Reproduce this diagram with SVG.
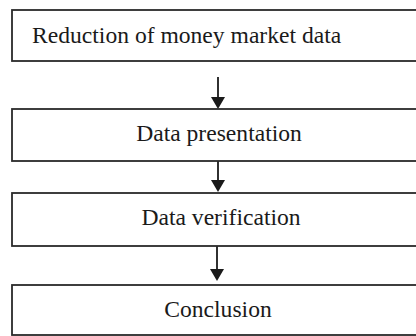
<svg xmlns="http://www.w3.org/2000/svg" width="416" height="336" viewBox="0 0 416 336">
<style>
.box{fill:#fff;stroke:#2a2a2a;stroke-width:1.8}
.t{font-family:"Liberation Serif","Times New Roman",serif;font-size:23.6px;fill:#1a1a1a}
.c{text-anchor:middle}
.conn{stroke:#1a1a1a;stroke-width:1.8;fill:none}
.head{fill:#1a1a1a}
</style>
<rect width="416" height="336" fill="#fff"/>
<g id="connectors">
<line class="conn" x1="218" y1="77" x2="218" y2="97"/>
<path class="head" d="M211,97 L225,97 L218,109 Z"/>
<line class="conn" x1="218" y1="146" x2="218" y2="180"/>
<path class="head" d="M211,180 L225,180 L218,192 Z"/>
<line class="conn" x1="217" y1="235" x2="217" y2="269"/>
<path class="head" d="M210,269 L224,269 L217,281 Z"/>
</g>
<g id="n1">
<rect class="box" x="12" y="10" width="420" height="51"/>
<text class="t" x="32" y="43">Reduction of money market data</text>
</g>
<g id="n2">
<rect class="box" x="12" y="109" width="420" height="52"/>
<text class="t c" x="219" y="141">Data presentation</text>
</g>
<g id="n3">
<rect class="box" x="12" y="193" width="420" height="53"/>
<text class="t c" x="221" y="225">Data verification</text>
</g>
<g id="n4">
<rect class="box" x="12" y="285" width="420" height="50"/>
<text class="t c" x="218" y="317">Conclusion</text>
</g>
</svg>
